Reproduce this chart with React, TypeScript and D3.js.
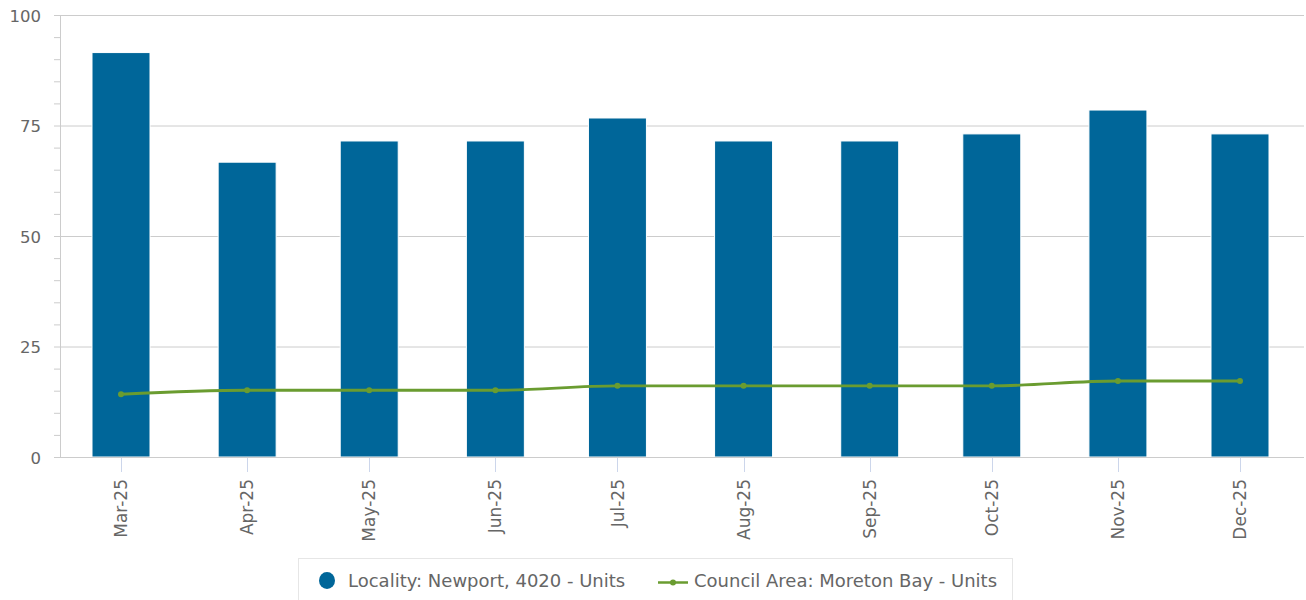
import * as React from "react";
import * as d3 from "d3";

const months = ["2025-03", "2025-04", "2025-05", "2025-06", "2025-07", "2025-08", "2025-09", "2025-10", "2025-11", "2025-12"];
const localityValues = [91.5, 66.7, 71.5, 71.5, 76.7, 71.5, 71.5, 73.1, 78.5, 73.1];
const councilValues = [14.2, 15.1, 15.1, 15.1, 16.1, 16.1, 16.1, 16.1, 17.2, 17.2];
const yTicks = [0, 25, 50, 75, 100];
const seriesNames = ["Locality: Newport, 4020 - Units", "Council Area: Moreton Bay - Units"];

export default function App() {
  const ref = React.useRef<SVGSVGElement>(null);

  React.useEffect(() => {
    const svg = d3.select(ref.current);
    svg.selectAll("*").remove();

    const barColor = "#006699";
    const lineColor = "#6a9c30";
    const textColor = "#666666";
    const font = "'DejaVu Sans', sans-serif";

    const plotLeft = 60;
    const plotRight = 1304;
    const plotTop = 15;
    const plotBottom = 457;
    const barWidth = 58;

    const parse = d3.timeParse("%Y-%m");
    const dates = months.map((m) => parse(m)!);

    const x = d3.scaleTime().domain([dates[0], dates[dates.length - 1]]).range([121, 1240]);
    const y = d3.scaleLinear().domain([0, 100]).range([plotBottom, plotTop]);

    // grid lines
    svg
      .append("g")
      .selectAll("line")
      .data(yTicks.filter((t) => t > 0))
      .enter()
      .append("line")
      .attr("x1", plotLeft)
      .attr("x2", plotRight)
      .attr("y1", (d) => y(d) + 0.5)
      .attr("y2", (d) => y(d) + 0.5)
      .attr("stroke", "#cccccc")
      .attr("stroke-width", 1);

    // y axis with minor ticks
    const minor = d3.range(0, 101, 5);
    svg
      .append("g")
      .selectAll("line")
      .data(minor)
      .enter()
      .append("line")
      .attr("x1", plotLeft - 6)
      .attr("x2", plotLeft)
      .attr("y1", (d) => y(d) + 0.5)
      .attr("y2", (d) => y(d) + 0.5)
      .attr("stroke", "#cccccc");
    svg
      .append("line")
      .attr("x1", plotLeft + 0.5)
      .attr("x2", plotLeft + 0.5)
      .attr("y1", plotTop)
      .attr("y2", plotBottom)
      .attr("stroke", "#cccccc");

    svg
      .append("g")
      .selectAll("text")
      .data(yTicks)
      .enter()
      .append("text")
      .text((d) => d)
      .attr("x", 41)
      .attr("y", (d) => y(d) + 6.5)
      .attr("text-anchor", "end")
      .attr("font-family", font)
      .attr("font-size", "16.5px")
      .attr("fill", textColor);

    // bars
    svg
      .append("g")
      .selectAll("rect")
      .data(localityValues)
      .enter()
      .append("rect")
      .attr("x", (d, i) => x(dates[i]) - barWidth / 2)
      .attr("y", (d) => y(d))
      .attr("width", barWidth)
      .attr("height", (d) => plotBottom - y(d))
      .attr("fill", barColor)
      .attr("stroke", "#ffffff")
      .attr("stroke-width", 1);

    // x axis
    svg
      .append("line")
      .attr("x1", plotLeft)
      .attr("x2", plotRight)
      .attr("y1", plotBottom + 0.5)
      .attr("y2", plotBottom + 0.5)
      .attr("stroke", "#cccccc");

    svg
      .append("g")
      .selectAll("line")
      .data(dates)
      .enter()
      .append("line")
      .attr("x1", (d) => Math.round(x(d)) + 0.5)
      .attr("x2", (d) => Math.round(x(d)) + 0.5)
      .attr("y1", plotBottom + 1)
      .attr("y2", plotBottom + 15)
      .attr("stroke", "#ccd6eb");

    const fmt = d3.timeFormat("%b-%y");
    svg
      .append("g")
      .selectAll("text")
      .data(dates)
      .enter()
      .append("text")
      .text((d) => fmt(d))
      .attr("transform", (d) => "translate(" + x(d) + "," + 479 + ") rotate(-90)")
      .attr("dy", "0.36em")
      .attr("text-anchor", "end")
      .attr("font-family", font)
      .attr("font-size", "17px")
      .attr("fill", textColor);

    // line series
    const line = d3
      .line<number>()
      .x((d, i) => x(dates[i]))
      .y((d) => y(d))
      .curve(d3.curveMonotoneX);

    svg
      .append("path")
      .datum(councilValues)
      .attr("d", line)
      .attr("fill", "none")
      .attr("stroke", lineColor)
      .attr("stroke-width", 2.8);

    svg
      .append("g")
      .selectAll("circle")
      .data(councilValues)
      .enter()
      .append("circle")
      .attr("cx", (d, i) => x(dates[i]))
      .attr("cy", (d) => y(d))
      .attr("r", 3)
      .attr("fill", lineColor);

    // legend
    const legend = svg.append("g");
    legend
      .append("rect")
      .attr("x", 298.5)
      .attr("y", 558.5)
      .attr("width", 714)
      .attr("height", 60)
      .attr("fill", "#ffffff")
      .attr("stroke", "#e6e6e6");
    legend
      .append("ellipse")
      .attr("cx", 327)
      .attr("cy", 580.5)
      .attr("rx", 8)
      .attr("ry", 8.5)
      .attr("fill", barColor);
    legend
      .append("text")
      .text(seriesNames[0])
      .attr("x", 348)
      .attr("y", 587)
      .attr("font-family", font)
      .attr("font-size", "18px")
      .attr("fill", textColor);
    legend
      .append("line")
      .attr("x1", 658)
      .attr("x2", 688)
      .attr("y1", 582.5)
      .attr("y2", 582.5)
      .attr("stroke", lineColor)
      .attr("stroke-width", 2.5);
    legend
      .append("circle")
      .attr("cx", 673)
      .attr("cy", 582.5)
      .attr("r", 3)
      .attr("fill", lineColor);
    legend
      .append("text")
      .text(seriesNames[1])
      .attr("x", 694)
      .attr("y", 587)
      .attr("font-family", font)
      .attr("font-size", "18px")
      .attr("fill", textColor);
  }, []);

  return (
    <div style={{ position: "fixed", left: 0, top: 0 }}>
      <svg ref={ref} width={1306} height={600} style={{ display: "block", background: "#ffffff" }} />
    </div>
  );
}
